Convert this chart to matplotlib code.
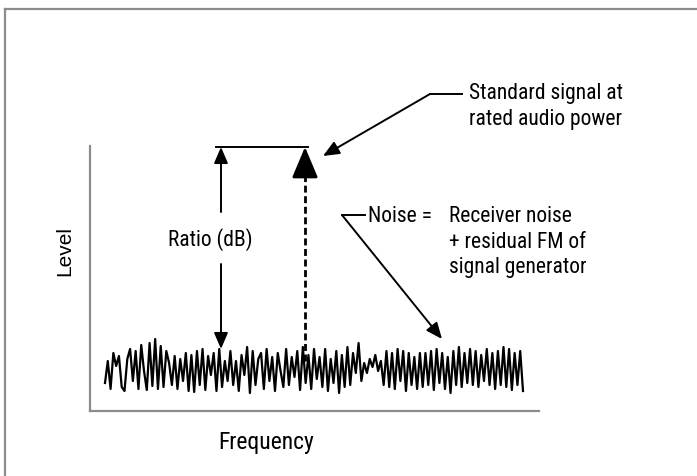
import matplotlib
matplotlib.use("Agg")
import matplotlib.pyplot as plt
from matplotlib.lines import Line2D
import numpy as np

# noise floor trace (level units, bottom of axes = 0, top = 265)
noise_level = [
    28, 50, 22, 58, 45, 55, 24, 20, 52, 62, 30, 60, 22, 66, 40, 21, 68, 25, 72, 22,
    65, 24, 60, 48, 26, 55, 22, 52, 30, 58, 20, 56, 19, 60, 26, 62, 21, 55,
    36, 58, 20, 62, 24, 50, 30, 60, 26, 50, 20, 56, 36, 64, 18, 60, 26, 52, 58, 22,
    62, 30, 54, 20, 58, 40, 24, 62, 26, 54, 34, 60, 21, 64, 28, 56, 22, 62,
    32, 54, 24, 62, 20, 52, 28, 60, 18, 56, 24, 64, 26, 58, 38, 68, 30, 48, 38, 52,
    44, 56, 40, 50, 26, 60, 24, 58, 22, 62, 30, 60, 20, 58, 26, 54, 22, 58,
    24, 58, 26, 60, 21, 62, 28, 58, 22, 54, 18, 60, 26, 64, 24, 58, 28, 62, 26, 60,
    24, 56, 30, 62, 26, 58, 22, 60, 26, 64, 24, 62, 21, 58, 26, 60, 20,
]
noise_start, noise_end = 15, 433
noise_freq = np.linspace(noise_start, noise_end, len(noise_level))

signal_freq = 215
signal_level = 264
ratio_freq = 131

x_max, y_max = 449, 265

W, H = 697, 477
fig = plt.figure(figsize=(W / 100, H / 100), dpi=100)
ax = fig.add_axes([90 / W, (H - 412) / H, 449 / W, 265 / H])
ax.set_xlim(0, x_max)
ax.set_ylim(0, y_max)
ax.set_xticks([])
ax.set_yticks([])
for s in ["top", "right"]:
    ax.spines[s].set_visible(False)
for s in ["left", "bottom"]:
    ax.spines[s].set_color("#8c8c8c")
    ax.spines[s].set_linewidth(1.6)

# outer frame (top and left edges only)
fig.add_artist(Line2D([5 / W, 1], [1 - 10 / H, 1 - 10 / H], color="#8c8c8c", lw=1.6))
fig.add_artist(Line2D([5 / W, 5 / W], [0, 1 - 10 / H], color="#8c8c8c", lw=1.6))

fam = ["Roboto Condensed", "Roboto", "DejaVu Sans"]
fs = 15.5

# noise
ax.plot(noise_freq, noise_level, color="black", lw=1.6, clip_on=False)

# standard signal: dashed shaft + large head
ax.plot([signal_freq, signal_freq], [50, 238], color="black", lw=2, ls=(0, (2.5, 1.3)))
ax.annotate("", xy=(signal_freq, signal_level), xytext=(signal_freq, 236),
            arrowprops=dict(arrowstyle="-|>,head_length=0.95,head_width=0.4",
                            color="black", lw=2, shrinkA=0, shrinkB=0,
                            mutation_scale=20))

# ratio marker
ax.plot([ratio_freq - 5, signal_freq + 3], [signal_level, signal_level], color="black", lw=1.4)
arrow_small = dict(arrowstyle="-|>,head_length=0.7,head_width=0.3", color="black",
                   lw=1.4, shrinkA=0, shrinkB=0, mutation_scale=14)
ax.annotate("", xy=(ratio_freq, signal_level), xytext=(ratio_freq, 199), arrowprops=arrow_small)
ax.annotate("", xy=(ratio_freq, 62), xytext=(ratio_freq, 147), arrowprops=arrow_small)
ax.text(120, 172, "Ratio (dB)", ha="center", va="center", fontsize=fs, family=fam)

# standard signal label
ax.plot([340, 372], [317, 317], color="black", lw=1.4, clip_on=False)
ax.annotate("", xy=(233, 255), xytext=(340, 317),
            arrowprops=arrow_small, annotation_clip=False)
ax.text(379, 305.5, "Standard signal at\nrated audio power", ha="left", va="center",
        fontsize=fs, family=fam, linespacing=1.3)

# noise label
ax.plot([252, 275], [196, 196], color="black", lw=1.4, clip_on=False)
ax.annotate("", xy=(352, 72), xytext=(252, 196),
            arrowprops=arrow_small, annotation_clip=False)
ax.text(278, 195, "Noise =", ha="left", va="center", fontsize=fs, family=fam)
ax.text(359, 195, "Receiver noise", ha="left", va="center", fontsize=fs, family=fam)
ax.text(359, 157, "+ residual FM of\nsignal generator", ha="left", va="center",
        fontsize=fs, family=fam, linespacing=1.3)

# axis labels
ax.text(-25, 161, "Level", ha="center", va="center", rotation=90, fontsize=15,
        family=["Liberation Sans", "DejaVu Sans"])
ax.text(176, -31, "Frequency", ha="center", va="center", fontsize=17, family=fam)

fig.savefig("out.png", dpi=100)
